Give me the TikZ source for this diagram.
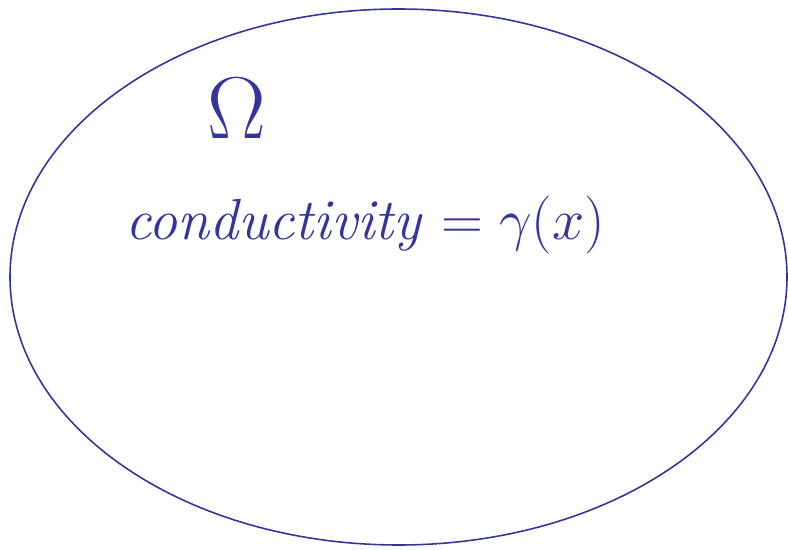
\documentclass[tikz,border=0pt]{standalone}
\usepackage{fix-cm}
\usepackage{amsmath}
\definecolor{ink}{RGB}{52,52,158}

\begin{document}
\begin{tikzpicture}[x=0.02cm, y=-0.02cm, thin,
  pen/.style={draw=ink, line width=0.9pt},
  hand/.style={text=ink, inner sep=0pt, font=\itshape\fontsize{33}{40}\selectfont}]

  \useasboundingbox (0,0) rectangle (788,550);

  % domain boundary
  \coordinate (M) at (398.5,277);
  \draw[pen] (M) ellipse [x radius=388.5, y radius=268];

  \node[hand, font=\fontsize{50}{60}\selectfont] (omega) at (237,108) {$\Omega$};
  \node[hand, anchor=base west] (cond) at (125,240) {conductivity $=\gamma(x)$};
\end{tikzpicture}
\end{document}
